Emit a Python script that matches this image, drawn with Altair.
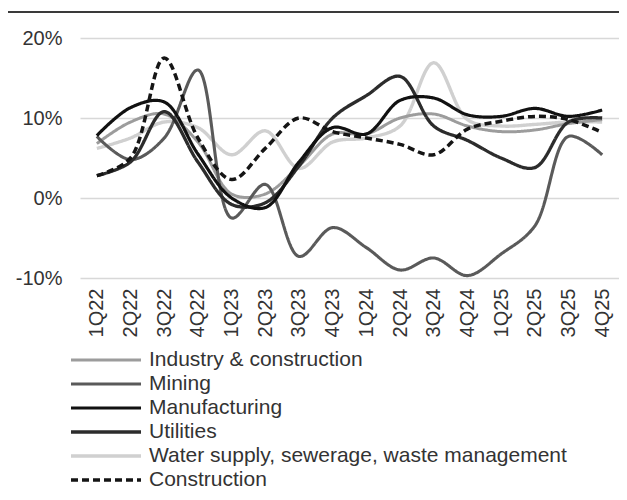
import altair as alt
import pandas as pd

quarters = ["1Q22", "2Q22", "3Q22", "4Q22", "1Q23", "2Q23", "3Q23", "4Q23",
            "1Q24", "2Q24", "3Q24", "4Q24", "1Q25", "2Q25", "3Q25", "4Q25"]

series_names = ["Industry & construction", "Mining", "Manufacturing", "Utilities",
                "Water supply, sewerage, waste management", "Construction"]

industry = [6.8, 9.5, 10.5, 7.0, 0.5, 0.5, 4.0, 8.0, 8.0, 10.0, 10.5, 9.0, 8.3, 8.5, 9.3, 9.8]
mining = [7.7, 4.8, 7.5, 16.0, -2.5, 1.7, -7.3, -3.7, -6.2, -9.0, -7.5, -9.7, -7.0, -3.5, 7.7, 5.4]
manufacturing = [7.8, 11.3, 12.0, 5.5, 0.0, -1.2, 4.5, 8.8, 8.0, 12.2, 12.5, 10.4, 10.2, 11.2, 10.2, 11.0]
utilities = [2.8, 4.5, 10.8, 4.5, -0.8, -0.6, 4.0, 10.0, 12.8, 15.2, 9.0, 7.2, 5.0, 3.8, 9.5, 10.0]
water = [6.2, 7.5, 9.5, 8.8, 5.4, 8.4, 3.7, 7.0, 7.5, 9.0, 16.9, 9.8, 9.0, 9.2, 9.5, 9.5]
construction = [2.8, 5.0, 17.5, 7.5, 2.3, 6.2, 10.0, 8.3, 7.5, 6.7, 5.4, 8.6, 9.6, 10.2, 9.8, 8.2]

y_ticks = [-10, 0, 10, 20]

# drawing order (light lines first, dashed last)
draw_order = [
    ("Water supply, sewerage, waste management", water),
    ("Industry & construction", industry),
    ("Mining", mining),
    ("Utilities", utilities),
    ("Manufacturing", manufacturing),
    ("Construction", construction),
]

rows = []
for name, vals in draw_order:
    for q, v in zip(quarters, vals):
        rows.append({"quarter": q, "series": name, "value": v})
df = pd.DataFrame(rows)

colors = ["#9c9c9c", "#5a5a5a", "#111111", "#2c2c2c", "#d0d0d0", "#151515"]
widths = [3, 3.5, 4.5, 4, 3, 3]
dashes = [[1, 0], [1, 0], [1, 0], [1, 0], [1, 0], [7, 4]]

FONT = "Liberation Sans"

legend = alt.Legend(
    title=None, orient="none", legendX=-11, legendY=310, direction="vertical",
    symbolType="stroke", symbolSize=4900, clipHeight=24, rowPadding=0,
    labelFontSize=21, labelFont=FONT, labelColor="#333333", labelOffset=6,
    padding=0, labelLimit=600,
)

lines = alt.Chart(df).mark_line(interpolate="catmull-rom").encode(
    x=alt.X("quarter:O", sort=quarters, title=None,
            axis=alt.Axis(labelAngle=-90, labelFontSize=20, labelFont=FONT,
                          labelColor="#333333", ticks=False, domain=False,
                          labelPadding=10, grid=False)),
    y=alt.Y("value:Q", title=None,
            scale=alt.Scale(domain=[-10, 20], nice=False, zero=False),
            axis=alt.Axis(values=y_ticks, labelExpr="datum.value + '%'",
                          labelFontSize=20, labelFont=FONT, labelColor="#333333",
                          ticks=False, domain=False, labelPadding=18,
                          grid=True, gridColor="#d8d8d8", gridWidth=1.5)),
    color=alt.Color("series:N", sort=series_names,
                    scale=alt.Scale(domain=series_names, range=colors), legend=legend),
    strokeDash=alt.StrokeDash("series:N", sort=series_names,
                              scale=alt.Scale(domain=series_names, range=dashes), legend=legend),
    strokeWidth=alt.StrokeWidth("series:N", sort=series_names,
                                scale=alt.Scale(domain=series_names, range=widths), legend=legend),
    detail="series:N",
)

top_rule = alt.Chart(pd.DataFrame({"k": [0]})).mark_rule(color="#3a3a3a", strokeWidth=2).encode(
    x=alt.value(-72), x2=alt.value(539), y=alt.value(-26)
)

chart = alt.layer(lines, top_rule).properties(
    width=539, height=240,
    autosize=alt.AutoSizeParams(type="none"),
    padding={"left": 72, "top": 30, "right": 0, "bottom": 214},
).configure_view(stroke=None)

chart.save("out.html", embed_options={"renderer": "svg", "actions": False})
